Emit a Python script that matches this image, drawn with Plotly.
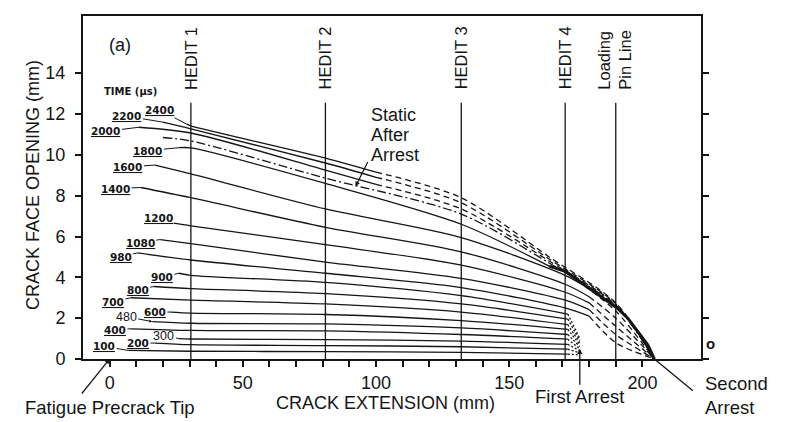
import plotly.graph_objects as go

# ---------------- data (mm) ----------------
gauge_names = ["HEDIT 1", "HEDIT 2", "HEDIT 3", "HEDIT 4"]
gauge_x = [30.5, 81, 132, 171]
pin_line_x = 190
gauge_top_y = 12.55

first_arrest_x = 176.5
second_arrest_x = 204.5

# early times: solid profiles ending near HEDIT 4, dotted into first arrest
low_times = [100, 200, 300, 400, 480, 600, 700, 800, 900]
low_start_x = [7, 17, 26, 8, 16, 23, 8, 16.5, 26]
low_start_y = [0.42, 0.78, 1.0, 1.48, 1.83, 2.3, 3.0, 3.55, 4.2]
low_y_g1 = [0.38, 0.70, 0.98, 1.40, 1.75, 2.25, 2.88, 3.45, 4.10]
low_y_g2 = [0.36, 0.66, 0.95, 1.38, 1.72, 2.18, 2.70, 3.20, 3.75]
low_y_g3 = [0.32, 0.60, 0.88, 1.20, 1.52, 1.88, 2.30, 2.70, 3.10]
low_end_x = 172
low_y_end = [0.24, 0.48, 0.72, 0.97, 1.20, 1.45, 1.68, 1.95, 2.20]
low_y_arrest = [0.20, 0.30, 0.40, 0.50, 0.60, 0.70, 0.80, 0.90, 1.00]

# middle times: solid past HEDIT 4, dashed into second arrest
mid_times = [980, 1080, 1200, 1400, 1600]
mid_start_x = [10.5, 19, 24, 11.6, 17]
mid_start_y = [5.2, 5.85, 6.65, 8.4, 9.5]
mid_y_g1 = [4.85, 5.65, 6.52, 7.90, 9.07]
mid_y_g2 = [4.20, 4.75, 5.60, 6.45, 7.35]
mid_y_g3 = [3.50, 3.95, 4.60, 5.25, 5.95]
mid_y_g4 = [2.50, 2.88, 3.27, 3.66, 4.10]
mid_solid_end_x = [180, 180, 180, 180, 178]
mid_solid_end_y = [2.10, 2.42, 2.75, 3.05, 3.60]
mid_dash_x = 190
mid_dash_y = [0.8, 1.2, 1.6, 2.0, 2.35]

# 1800 us: solid into the arrest envelope
t1800_x = [26, 30.5, 81, 132, 165]
t1800_y = [10.35, 10.34, 8.6, 6.6, 4.55]

# late times: solid to ~100 mm, dashed beyond
up_times = [2000, 2200, 2400]
up_start_x = [11, 20, 29]
up_start_y = [11.35, 11.6, 11.5]
up_y_g1 = [11.07, 11.27, 11.42]
up_y_g2 = [9.25, 9.60, 9.84]
up_break_x = 100
up_y_break = [8.55, 8.90, 9.15]
up_y_g3 = [7.35, 7.65, 7.90]
up_x_near = [165, 190]
up_y_165 = [4.80, 4.90, 5.00]
up_y_190 = [2.65, 2.70, 2.75]

# static profile after arrest (dash-dot)
static_x = [20, 30.5, 81, 132, 165, 190, 204.5]
static_y = [10.85, 10.68, 8.86, 7.1, 4.7, 2.6, 0.0]

# arrest envelope (thick)
env_x = [165, 171, 177, 183, 190.5, 194.5, 198, 202, 204.5]
env_y = [4.55, 4.3, 3.75, 3.2, 2.5, 2.0, 1.4, 0.7, 0.0]

x_ticks = list(range(0, 201, 10))
x_tick_text = [str(v) if v % 50 == 0 else "" for v in x_ticks]
y_ticks = list(range(0, 15, 2))

# ---------------- styles ----------------
INK = "#151515"
FONT = "Liberation Sans"
LW = 1.3
DASH = "6px,4px"
DASHDOT = "9px,3px,2px,3px"

fig = go.Figure()


def line(xs, ys, dash="solid", width=LW, shape="spline"):
    fig.add_trace(go.Scatter(x=xs, y=ys, mode="lines", showlegend=False,
                             hoverinfo="skip",
                             line=dict(color=INK, width=width, dash=dash,
                                       shape=shape, smoothing=0.8)))


# gauge lines
for gx in gauge_x + [pin_line_x]:
    line([gx, gx], [0, gauge_top_y], shape="linear")

# early curves
for i in range(len(low_times)):
    line([low_start_x[i], gauge_x[0], gauge_x[1], gauge_x[2], low_end_x],
         [low_start_y[i], low_y_g1[i], low_y_g2[i], low_y_g3[i], low_y_end[i]])
    line([low_end_x, first_arrest_x], [low_y_end[i], low_y_arrest[i]],
         dash="2px,2px", shape="linear")

# middle curves
for i in range(len(mid_times)):
    line([mid_start_x[i], gauge_x[0], gauge_x[1], gauge_x[2], gauge_x[3], mid_solid_end_x[i]],
         [mid_start_y[i], mid_y_g1[i], mid_y_g2[i], mid_y_g3[i], mid_y_g4[i], mid_solid_end_y[i]])
    line([mid_solid_end_x[i], mid_dash_x, second_arrest_x],
         [mid_solid_end_y[i], mid_dash_y[i], 0], dash=DASH)

# 1800
line(t1800_x, t1800_y)

# late curves
for i in range(len(up_times)):
    line([up_start_x[i], gauge_x[0], gauge_x[1], up_break_x],
         [up_start_y[i], up_y_g1[i], up_y_g2[i], up_y_break[i]])
    line([up_break_x, gauge_x[2], up_x_near[0], up_x_near[1], second_arrest_x],
         [up_y_break[i], up_y_g3[i], up_y_165[i], up_y_190[i], 0], dash=DASH)

# static after arrest
line(static_x, static_y, dash=DASHDOT)

# envelope
line(env_x, env_y, width=3, shape="linear")

# ---------------- annotations ----------------
ann = []

all_times = low_times + mid_times + [1800] + up_times
all_sx = low_start_x + mid_start_x + [t1800_x[0]] + up_start_x
all_sy = low_start_y + mid_start_y + [t1800_y[0]] + up_start_y
label_off = [(-24, -4), (-17, 0), (-15, -3), (-16, 1), (-26, -5), (-16, 0), (-18, 4),
             (-16, 3), (-17, 4), (-17, 4), (-20, 3), (-15, -5), (-25, 1), (-27, 2),
             (-31, 3), (-33, 4), (-36, -6), (-27, -14)]
plain_labels = [300, 480]
for t, sx, sy, (dx, dy) in zip(all_times, all_sx, all_sy, label_off):
    if t in plain_labels:
        f = dict(family=FONT, size=12.5, color=INK)
    else:
        f = dict(family="DejaVu Sans", size=10.5, color=INK, weight="bold",
                 lineposition="under")
    ann.append(dict(x=sx, y=sy, text=str(t), showarrow=True, ax=dx, ay=dy,
                    arrowhead=2 if t == 480 else 0, arrowsize=0.6, arrowwidth=1,
                    arrowcolor=INK, standoff=0, startstandoff=0, font=f))

ann.append(dict(x=7.9, y=13.1, text="TIME (μs)", showarrow=False,
                xanchor="center", yanchor="middle",
                font=dict(family="DejaVu Sans", size=10, color=INK, weight="bold")))
ann.append(dict(x=3.75, y=15.37, text="(a)", showarrow=False,
                xanchor="center", yanchor="middle",
                font=dict(family=FONT, size=18, color=INK)))

for name, gx in zip(gauge_names, gauge_x):
    ann.append(dict(x=gx, y=13.1, text=name, textangle=-90, showarrow=False,
                    xanchor="center", yanchor="bottom",
                    font=dict(family=FONT, size=16.5, color=INK)))
ann.append(dict(x=pin_line_x - 0.6, y=13.1, text="Loading<br>Pin Line", textangle=-90,
                showarrow=False, xanchor="center", yanchor="bottom", align="left",
                font=dict(family=FONT, size=16.5, color=INK)))

for k, word in enumerate(["Static", "After", "Arrest"]):
    ann.append(dict(x=97.2, y=11.95 - k * 0.98, text=word, showarrow=False,
                    xanchor="left", yanchor="middle",
                    font=dict(family=FONT, size=18, color=INK)))
ann.append(dict(x=92.3, y=8.45, text="", showarrow=True, ax=13, ay=-26,
                arrowhead=2, arrowsize=0.8, arrowwidth=1.2, arrowcolor=INK))

ann.append(dict(x=first_arrest_x, y=0.5, text="First Arrest", showarrow=True,
                ax=0, ay=48, arrowhead=2, arrowsize=0.8, arrowwidth=1.3,
                arrowcolor=INK, font=dict(family=FONT, size=18.5, color=INK)))
ann.append(dict(x=second_arrest_x, y=0, text="", showarrow=True, ax=40, ay=33,
                arrowhead=0, arrowwidth=1.3, arrowcolor=INK))
ann.append(dict(x=1.0, xref="paper", y=-0.105, yref="paper", xshift=2,
                text="Second<br>Arrest", showarrow=False, xanchor="left",
                yanchor="middle", align="left",
                font=dict(family=FONT, size=18.5, color=INK)))
ann.append(dict(x=0, y=0, text="", showarrow=True, ax=-29, ay=36,
                arrowhead=2, arrowsize=0.8, arrowwidth=1.2, arrowcolor=INK))
ann.append(dict(x=0.0437, xref="paper", y=-0.14, yref="paper",
                xanchor="center", yanchor="middle",
                text="Fatigue Precrack Tip", showarrow=False,
                font=dict(family=FONT, size=18.5, color=INK)))
ann.append(dict(x=-0.081, xref="paper", y=0.507, yref="paper", textangle=-90,
                xanchor="center", yanchor="middle",
                text="CRACK FACE OPENING (mm)", showarrow=False,
                font=dict(family=FONT, size=18, color=INK)))
ann.append(dict(x=0.489, xref="paper", y=-0.128, yref="paper",
                xanchor="center", yanchor="middle",
                text="CRACK EXTENSION (mm)", showarrow=False,
                font=dict(family=FONT, size=18, color=INK)))
ann.append(dict(x=1.016, xref="paper", y=0.045, yref="paper", text="<b>o</b>",
                xanchor="center", yanchor="middle",
                showarrow=False, font=dict(family=FONT, size=15, color=INK)))

fig.update_layout(
    width=789, height=422, autosize=False,
    margin=dict(l=83, r=88, t=16, b=63),
    paper_bgcolor="white", plot_bgcolor="white",
    font=dict(family=FONT, color=INK, size=18),
    annotations=ann,
    xaxis=dict(range=[-10, 222], tickvals=x_ticks, ticktext=x_tick_text,
               ticks="outside", ticklen=6, tickwidth=1.5, tickcolor=INK,
               showline=True, linecolor=INK, linewidth=2, mirror=True,
               showgrid=False, zeroline=False,
               tickfont=dict(family=FONT, size=18, color=INK)),
    yaxis=dict(range=[0, 16.8], tickvals=y_ticks, ticks="outside", ticklen=6,
               tickwidth=1.5, tickcolor=INK, showline=True, linecolor=INK,
               linewidth=2, mirror="ticks", showgrid=False, zeroline=False,
               ticklabelstandoff=6,
               tickfont=dict(family=FONT, size=18, color=INK)),
)

fig.write_html("out.html")
